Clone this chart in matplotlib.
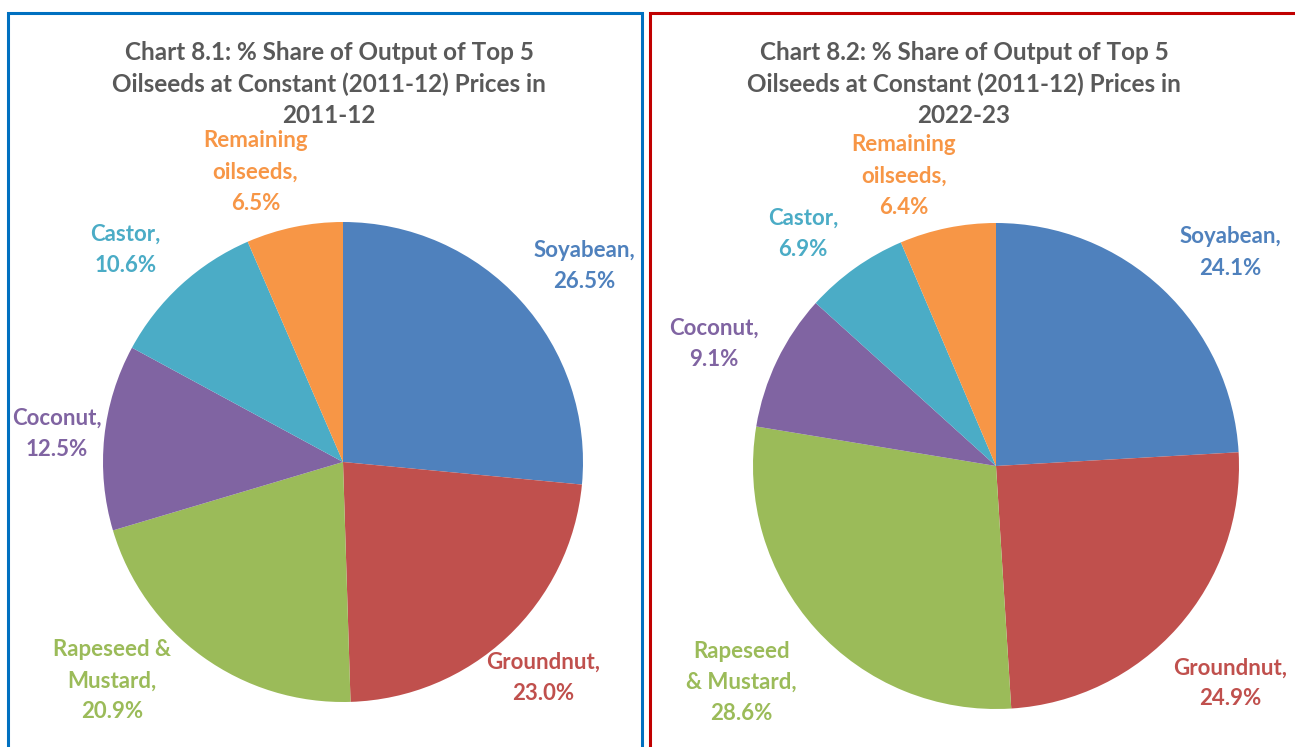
import numpy as np
import matplotlib.pyplot as plt
from matplotlib.patches import Rectangle

# data
categories = ["Soyabean", "Groundnut", "Rapeseed & Mustard", "Coconut", "Castor", "Remaining oilseeds"]
share_2011 = [26.5, 23.0, 20.9, 12.5, 10.6, 6.5]
share_2022 = [24.1, 24.9, 28.6, 9.1, 6.9, 6.4]
labels_2011 = ["Soyabean,", "Groundnut,", "Rapeseed &\nMustard,", "Coconut,", "Castor,", "Remaining\noilseeds,"]
labels_2022 = ["Soyabean,", "Groundnut,", "Rapeseed\n& Mustard,", "Coconut,", "Castor,", "Remaining\noilseeds,"]
titles = ["Chart 8.1: % Share of Output of Top 5\nOilseeds at Constant (2011-12) Prices in\n2011-12",
          "Chart 8.2: % Share of Output of Top 5\nOilseeds at Constant (2011-12) Prices in\n2022-23"]

colors = ["#4F81BD", "#C0504D", "#9BBB59", "#8064A2", "#4BACC6", "#F79646"]

W, H = 1295, 747
fig = plt.figure(figsize=(W / 100, H / 100), dpi=100)
ax = fig.add_axes([0, 0, 1, 1])

FONT = "Lato"

# panel frames
ax.add_patch(Rectangle((8, -20), 634, H - 13 + 20, fill=False, ec="#0070C0", lw=2.2))
ax.add_patch(Rectangle((650, -20), 700, H - 13 + 20, fill=False, ec="#C00000", lw=2.2))

panels = [
    dict(vals=share_2011, labels=labels_2011, center=(343, H - 462), r=240, title=titles[0], tx=329,
         dist=[1.30, 1.22, 1.32, 1.20, 1.27, 1.27], nudge=[-3, 0, -11, 0, 3, 5]),
    dict(vals=share_2022, labels=labels_2022, center=(996, H - 466), r=243, title=titles[1], tx=964,
         dist=[1.31, 1.31, 1.37, 1.27, 1.25, 1.26], nudge=[-4, -1, -2, 2, 4, 6]),
]

for p in panels:
    cx, cy = p["center"]
    wedges, _ = ax.pie(p["vals"], colors=colors, startangle=90, counterclock=False,
                       center=(cx, cy), radius=p["r"], frame=True)
    for w, lab, val, col, d, nd in zip(wedges, p["labels"], p["vals"], colors, p["dist"], p["nudge"]):
        mid = np.deg2rad((w.theta1 + w.theta2) / 2 + nd)
        x = cx + p["r"] * d * np.cos(mid)
        y = cy + p["r"] * d * np.sin(mid) - 2
        ax.text(x, y, f"{lab}\n{val:.1f}%", ha="center", va="center", color=col,
                fontsize=16, fontweight="bold", family=FONT, linespacing=1.6)
    ax.text(p["tx"], H - 84, p["title"], ha="center", va="center", color="#595959",
            fontsize=17.5, fontweight="bold", family=FONT, linespacing=1.42)

ax.set_xlim(0, W)
ax.set_ylim(0, H)
ax.set_aspect("auto")
ax.axis("off")

fig.savefig("out.png", dpi=100)
